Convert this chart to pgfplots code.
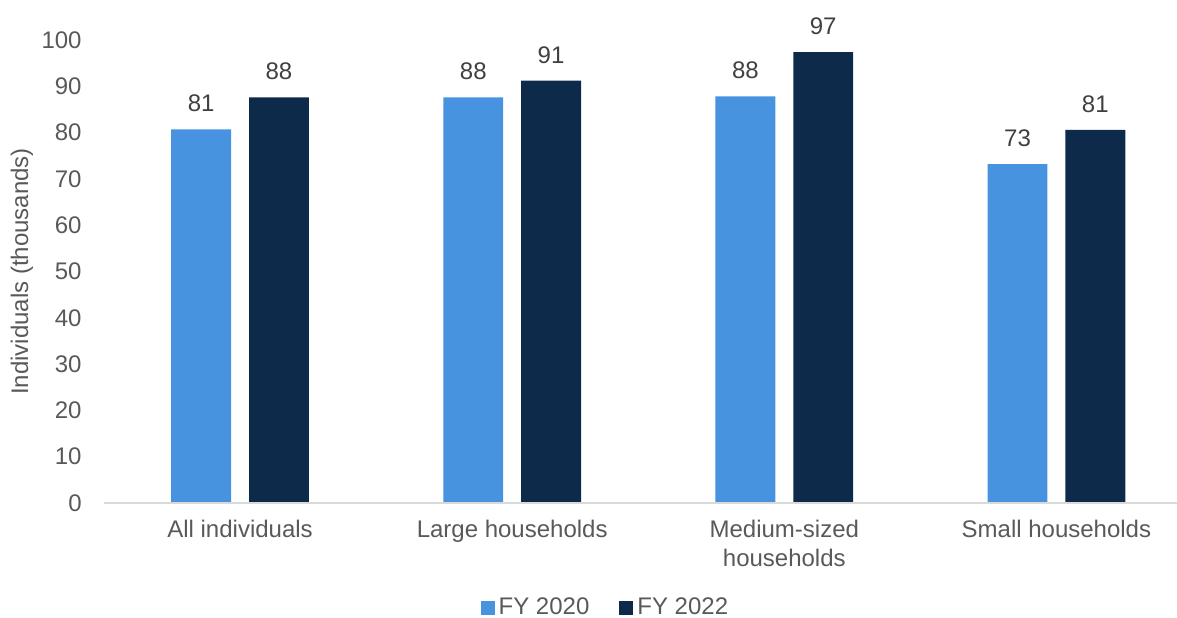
\documentclass[border=0pt]{standalone}
\usepackage{pgfplots}
\pgfplotsset{compat=1.18}
\usepackage{fontspec}
\setmainfont{Liberation Sans}
\definecolor{lblue}{HTML}{4793E0}
\definecolor{dnavy}{HTML}{0D2A4B}
\definecolor{txt}{HTML}{595959}
\definecolor{vtxt}{HTML}{404040}
\definecolor{axl}{HTML}{D9D9D9}
\begin{document}
\begin{tikzpicture}[x=1pt,y=1pt]
\useasboundingbox (-52pt,-57pt) rectangle (536.5pt,251.5pt);
\begin{axis}[
  at={(0,0)}, anchor=south west,
  width=536.75pt, height=231.5pt, scale only axis,
  xmin=-0.5, xmax=3.445, ymin=0, ymax=100,
  axis lines*=left,
  axis line style={draw=none},
  ytick={0,10,...,100},
  xtick={0,1,2,3},
  xticklabels={All individuals, Large households, {Medium-sized\\households}, Small households},
  major tick length=0pt,
  font=\fontsize{12}{14}\selectfont,
  tick label style={text=txt, font=\fontsize{12}{14.5}\selectfont},
  xticklabel style={align=center, anchor=north, inner sep=0pt, yshift=-8.5pt},
  yticklabel style={anchor=east, inner sep=0pt, xshift=-11pt},
  /pgf/number format/assume math mode=true,
  ylabel={Individuals (thousands)},
  ylabel style={text=txt, font=\fontsize{12}{14}\selectfont, at={(axis description cs:-0.0764,0.5)}, anchor=center},
  ybar, bar width=0.22,
  nodes near coords={\pgfmathprintnumber[fixed,precision=0]{\pgfplotspointmeta}},
  nodes near coords style={font=\fontsize{12}{14}\selectfont, text=vtxt, anchor=south, inner sep=0pt, yshift=8.5pt},
  legend style={at={(axis description cs:0.468,-0.2266)}, anchor=center, draw=none, fill=none,
    font=\fontsize{12}{14}\selectfont, text=txt, legend columns=2,
    /tikz/every even column/.append style={column sep=13pt}},
  legend image code/.code={\fill[#1] (0pt,-3.5pt) rectangle (7pt,3.5pt);},
  clip=false,
]
\addplot[fill=lblue, draw=none, bar shift=-0.143] coordinates {(0,80.7) (1,87.6) (2,87.8) (3,73.2)};
\addplot[fill=dnavy, draw=none, bar shift=0.143] coordinates {(0,87.6) (1,91.2) (2,97.4) (3,80.6)};
\legend{FY 2020, FY 2022}
\draw[axl, line width=1pt] (axis cs:-0.5,0) -- (axis cs:3.445,0);
\end{axis}
\end{tikzpicture}
\end{document}
